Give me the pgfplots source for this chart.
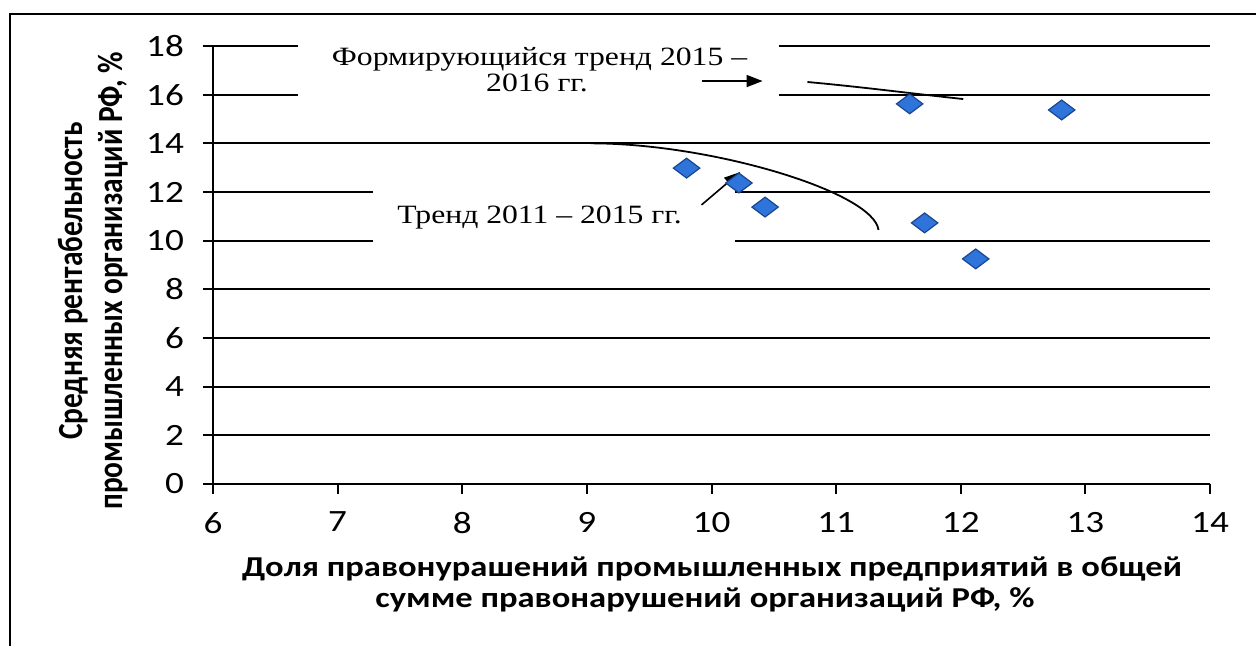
\documentclass[border=0pt]{standalone}
\usepackage{fontspec}
\setmainfont{Carlito}[FakeStretch=1.2]
\newfontfamily\plainsans{Carlito}
\newfontfamily\timesf{Liberation Serif}[FakeStretch=1.2]
\usepackage{pgfplots}
\pgfplotsset{compat=1.18}
\usetikzlibrary{arrows.meta}
\definecolor{mk}{HTML}{2F74DA}
\definecolor{mkd}{HTML}{1A4590}
\begin{document}
\begin{tikzpicture}
\path[use as bounding box] (0,0) rectangle (628pt,323pt);
\draw[line width=1pt] (5pt,0pt) -- (5pt,316pt) -- (628pt,316pt);
\begin{axis}[
  at={(106.5pt,81pt)}, anchor=south west,
  scale only axis, width=498.5pt, height=219pt,
  xmin=6, xmax=14, ymin=0, ymax=18,
  xtick={6,...,14}, ytick={0,2,...,18},
  axis x line*=bottom, axis y line*=left,
  axis line style={line width=1pt, black},
  ymajorgrids, grid style={black, line width=1pt},
  tick align=outside, major tick length=5pt,
  tick style={black, line width=1pt},
  tick label style={font=\fontsize{15.5}{17}\selectfont},
  /pgf/number format/assume math mode=true,
  yticklabel style={xshift=-6pt},
  xticklabel style={yshift=-5.5pt},
  clip=false,
]
% white boxes behind the annotations
\fill[white] (axis cs:6.68,15.7) rectangle (axis cs:10.54,18.4);
\fill[white] (axis cs:7.28,9.6) rectangle (axis cs:10.19,13.6);

\addplot[only marks, mark=diamond*, mark size=6.6pt,
  mark options={rotate=90, fill=mk, draw=mkd, line width=0.6pt}]
  coordinates {
  (9.80,12.98) (10.22,12.37) (10.43,11.38) (11.59,15.62)
  (11.71,10.73) (12.12,9.25) (12.81,15.37)
  };

% trend curves
\draw[line width=0.9pt] (axis cs:9.03,14.0) .. controls (axis cs:10.0,14.0) and (axis cs:11.3,12.0) .. (axis cs:11.34,10.44);
\draw[line width=0.9pt] (axis cs:10.77,16.52) .. controls (axis cs:11.2,16.32) and (axis cs:11.6,16.05) .. (axis cs:12.02,15.82);

% arrows
\draw[line width=0.8pt, -{Triangle[length=8pt,width=6pt]}] (axis cs:9.92,16.56) -- (axis cs:10.41,16.56);
\draw[line width=0.8pt, -{Triangle[length=8pt,width=6pt]}] (axis cs:9.92,11.47) -- (axis cs:10.23,12.82);

% annotation texts
\node[anchor=base, font=\timesf\fontsize{13.2}{14}\selectfont, inner sep=0pt] at (axis cs:8.62,17.18) {Формирующийся тренд 2015 –};
\node[anchor=base, font=\timesf\fontsize{13.2}{14}\selectfont, inner sep=0pt] at (axis cs:8.60,16.11) {2016 гг.};
\node[anchor=base, font=\timesf\fontsize{13.2}{14}\selectfont, inner sep=0pt] at (axis cs:8.62,10.69) {Тренд 2011 – 2015 гг.};
\end{axis}
% axis titles
\node[anchor=base, inner sep=0pt, font=\bfseries\fontsize{14.4}{16}\selectfont] at (356pt,34.5pt) {Доля правонурашений промышленных предприятий в общей};
\node[anchor=base, inner sep=0pt, font=\bfseries\fontsize{14.4}{16}\selectfont] at (352.5pt,19pt) {сумме правонарушений организаций РФ, \%};
\begin{scope}[shift={(41pt,182.5pt)}, xscale=1.2]
\node[transform shape, rotate=90, anchor=base, inner sep=0pt, font=\plainsans\bfseries\fontsize{14.7}{16}\selectfont] at (0,0) {Средняя рентабельность};
\end{scope}
\begin{scope}[shift={(61pt,182.5pt)}, xscale=1.2]
\node[transform shape, rotate=90, anchor=base, inner sep=0pt, font=\plainsans\bfseries\fontsize{14.7}{16}\selectfont] at (0,0) {промышленных организаций РФ, \%};
\end{scope}
\end{tikzpicture}
\end{document}
